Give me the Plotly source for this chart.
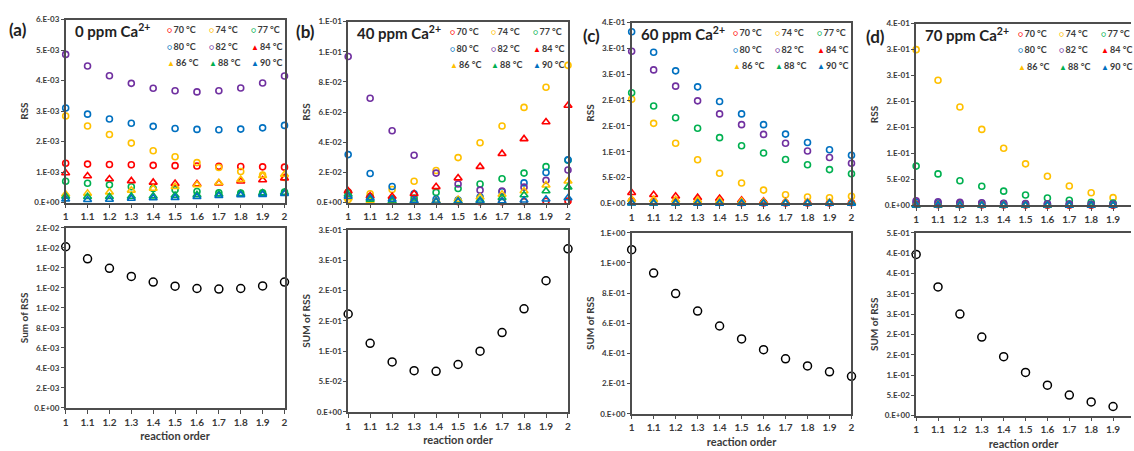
import plotly.graph_objects as go

W, H = 1134, 451

# ---------------- data ----------------
ORDERS = [1.0, 1.1, 1.2, 1.3, 1.4, 1.5, 1.6, 1.7, 1.8, 1.9, 2.0]
ORDER_LABELS = ["1", "1.1", "1.2", "1.3", "1.4", "1.5", "1.6", "1.7", "1.8", "1.9", "2"]
TEMPS = ["70 °C", "74 °C", "77 °C", "80 °C", "82 °C", "84 °C", "86 °C", "88 °C", "90 °C"]

PANEL_LETTERS = ["(a)", "(b)", "(c)", "(d)"]
PANEL_TITLES = ["0 ppm Ca<sup>2+</sup>", "40 ppm Ca<sup>2+</sup>",
                "60 ppm Ca<sup>2+</sup>", "70 ppm Ca<sup>2+</sup>"]
SUM_TITLES = ["Sum of RSS", "SUM of RSS", "SUM of RSS", "SUM of RSS"]

# RSS per temperature (rows follow TEMPS), 0 ppm Ca2+
RSS_0PPM = [
    [0.00129, 0.00126, 0.00125, 0.00124, 0.00122, 0.00121, 0.00120, 0.00119, 0.00118, 0.00117, 0.00116],
    [0.00284, 0.00251, 0.00223, 0.00195, 0.00170, 0.00150, 0.00131, 0.00115, 0.00102, 0.00090, 0.00082],
    [0.00070, 0.00063, 0.00058, 0.00052, 0.00046, 0.00042, 0.00036, 0.00032, 0.00031, 0.00032, 0.00034],
    [0.00310, 0.00290, 0.00274, 0.00260, 0.00250, 0.00243, 0.00240, 0.00239, 0.00241, 0.00245, 0.00253],
    [0.00486, 0.00448, 0.00416, 0.00391, 0.00375, 0.00367, 0.00363, 0.00367, 0.00376, 0.00392, 0.00415],
    [0.00097, 0.00087, 0.00077, 0.00071, 0.00066, 0.00062, 0.00061, 0.00063, 0.00070, 0.00074, 0.00080],
    [0.00027, 0.00030, 0.00034, 0.00040, 0.00046, 0.00052, 0.00058, 0.00065, 0.00075, 0.00088, 0.00092],
    [0.00020, 0.00019, 0.00019, 0.00020, 0.00021, 0.00023, 0.00025, 0.00027, 0.00029, 0.00031, 0.00033],
    [0.00011, 0.00009, 0.00010, 0.00013, 0.00015, 0.00016, 0.00019, 0.00022, 0.00025, 0.00026, 0.00029],
]
# 40 ppm Ca2+
RSS_40PPM = [
    [0.0070, 0.0040, 0.0020, 0.0012, 0.0008, 0.0006, 0.0005, 0.0005, 0.0006, 0.0008, 0.0010],
    [0.0020, 0.0058, 0.0086, 0.0141, 0.0212, 0.0298, 0.0396, 0.0508, 0.0631, 0.0765, 0.0910],
    [0.0065, 0.0035, 0.0025, 0.0030, 0.0067, 0.0093, 0.0123, 0.0158, 0.0195, 0.0238, 0.0280],
    [0.0318, 0.0192, 0.0106, 0.0058, 0.0022, 0.0017, 0.0037, 0.0071, 0.0130, 0.0199, 0.0283],
    [0.0969, 0.0692, 0.0476, 0.0314, 0.0195, 0.0123, 0.0082, 0.0076, 0.0102, 0.0147, 0.0216],
    [0.0076, 0.0043, 0.0040, 0.0058, 0.0104, 0.0162, 0.0238, 0.0324, 0.0422, 0.0534, 0.0644],
    [0.0030, 0.0012, 0.0005, 0.0005, 0.0012, 0.0020, 0.0035, 0.0054, 0.0076, 0.0115, 0.0141],
    [0.0054, 0.0020, 0.0008, 0.0005, 0.0005, 0.0008, 0.0015, 0.0032, 0.0050, 0.0076, 0.0102],
    [0.0040, 0.0030, 0.0020, 0.0012, 0.0008, 0.0006, 0.0008, 0.0010, 0.0015, 0.0022, 0.0030],
]
# 60 ppm Ca2+
RSS_60PPM = [
    [0.0050, 0.0040, 0.0030, 0.0025, 0.0020, 0.0015, 0.0012, 0.0010, 0.0010, 0.0010, 0.0015],
    [0.2018, 0.1551, 0.1167, 0.0845, 0.0586, 0.0397, 0.0259, 0.0170, 0.0125, 0.0110, 0.0140],
    [0.2144, 0.1885, 0.1658, 0.1456, 0.1274, 0.1116, 0.0977, 0.0851, 0.0750, 0.0656, 0.0575],
    [0.3323, 0.2926, 0.2566, 0.2257, 0.1974, 0.1734, 0.1526, 0.1343, 0.1179, 0.1040, 0.0934],
    [0.2945, 0.2585, 0.2270, 0.1986, 0.1734, 0.1526, 0.1337, 0.1167, 0.1015, 0.0889, 0.0780],
    [0.0208, 0.0170, 0.0139, 0.0113, 0.0095, 0.0063, 0.0044, 0.0030, 0.0025, 0.0020, 0.0020],
    [0.0080, 0.0075, 0.0070, 0.0060, 0.0050, 0.0040, 0.0030, 0.0025, 0.0020, 0.0020, 0.0020],
    [0.0010, 0.0008, 0.0007, 0.0006, 0.0005, 0.0005, 0.0004, 0.0004, 0.0004, 0.0004, 0.0005],
    [0.0005, 0.0004, 0.0004, 0.0003, 0.0003, 0.0003, 0.0003, 0.0003, 0.0003, 0.0003, 0.0003],
]
# 70 ppm Ca2+ (orders 1 .. 1.9 visible)
RSS_70PPM = [
    [0.0020, 0.0015, 0.0012, 0.0010, 0.0008, 0.0007, 0.0006, 0.0005, 0.0005, 0.0005],
    [0.2998, 0.2410, 0.1896, 0.1464, 0.1101, 0.0801, 0.0563, 0.0375, 0.0244, 0.0150],
    [0.0757, 0.0607, 0.0476, 0.0369, 0.0275, 0.0200, 0.0144, 0.0100, 0.0063, 0.0044],
    [0.0060, 0.0050, 0.0045, 0.0040, 0.0035, 0.0030, 0.0028, 0.0025, 0.0022, 0.0020],
    [0.0088, 0.0070, 0.0060, 0.0050, 0.0042, 0.0036, 0.0030, 0.0026, 0.0023, 0.0020],
    [0.0012, 0.0010, 0.0009, 0.0008, 0.0007, 0.0006, 0.0005, 0.0005, 0.0004, 0.0004],
    [0.0010, 0.0009, 0.0008, 0.0007, 0.0006, 0.0005, 0.0005, 0.0004, 0.0004, 0.0004],
    [0.0006, 0.0005, 0.0005, 0.0004, 0.0004, 0.0004, 0.0003, 0.0003, 0.0003, 0.0003],
    [0.0004, 0.0004, 0.0003, 0.0003, 0.0003, 0.0003, 0.0003, 0.0002, 0.0002, 0.0002],
]

SUM_0PPM = [0.01612, 0.01491, 0.01396, 0.01315, 0.01259, 0.01217, 0.01194, 0.01188, 0.01194, 0.01220, 0.01259]
SUM_40PPM = [0.1613, 0.1129, 0.0823, 0.0677, 0.0667, 0.0780, 0.1000, 0.1306, 0.1699, 0.2161, 0.2688]
SUM_60PPM = [1.088, 0.933, 0.797, 0.681, 0.582, 0.496, 0.425, 0.364, 0.317, 0.278, 0.248]
SUM_70PPM = [0.3968, 0.3169, 0.2500, 0.1935, 0.1452, 0.1065, 0.0750, 0.0508, 0.0339, 0.0226]

RSS_TICKS_0 = [0, 0.001, 0.002, 0.003, 0.004, 0.005, 0.006]
RSS_LABELS_0 = ["0.E+00", "1.E-03", "2.E-03", "3.E-03", "4.E-03", "5.E-03", "6.E-03"]
RSS_TICKS_40 = [0, 0.02, 0.04, 0.06, 0.08, 0.10, 0.12]
RSS_LABELS_40 = ["0.E+00", "2.E-02", "4.E-02", "6.E-02", "8.E-02", "1.E-01", "1.E-01"]
RSS_TICKS_60 = [0, 0.05, 0.10, 0.15, 0.20, 0.25, 0.30, 0.35]
RSS_LABELS_60 = ["0.E+00", "5.E-02", "1.E-01", "2.E-01", "2.E-01", "3.E-01", "3.E-01", "4.E-01"]
RSS_TICKS_70 = [0, 0.05, 0.10, 0.15, 0.20, 0.25, 0.30, 0.35]
RSS_LABELS_70 = ["0.E+00", "5.E-02", "1.E-01", "2.E-01", "2.E-01", "3.E-01", "3.E-01", "4.E-01"]

SUM_TICKS_0 = [0, 0.002, 0.004, 0.006, 0.008, 0.010, 0.012, 0.014, 0.016, 0.018]
SUM_LABELS_0 = ["0.E+00", "2.E-03", "4.E-03", "6.E-03", "8.E-03", "1.E-02", "1.E-02", "1.E-02", "1.E-02", "2.E-02"]
SUM_TICKS_40 = [0, 0.05, 0.10, 0.15, 0.20, 0.25, 0.30]
SUM_LABELS_40 = ["0.E+00", "5.E-02", "1.E-01", "2.E-01", "2.E-01", "3.E-01", "3.E-01"]
SUM_TICKS_60 = [0, 0.2, 0.4, 0.6, 0.8, 1.0, 1.2]
SUM_LABELS_60 = ["0.E+00", "2.E-01", "4.E-01", "6.E-01", "8.E-01", "1.E+00", "1.E+00"]
SUM_TICKS_70 = [0, 0.05, 0.10, 0.15, 0.20, 0.25, 0.30, 0.35, 0.40, 0.45]
SUM_LABELS_70 = ["0.E+00", "5.E-02", "1.E-01", "2.E-01", "2.E-01", "3.E-01", "3.E-01", "4.E-01", "4.E-01", "5.E-01"]

# ---------------- style / layout ----------------
FONT = "Lato"
TXT = "#3a3a3a"
AX = "#4d4d4d"
COLORS = ["#FF0000", "#FFC000", "#00B050", "#0070C0", "#7030A0",
          "#FF0000", "#FFC000", "#00B050", "#0070C0"]
SYMBOLS = ["circle-open"] * 5 + ["triangle-up-open"] * 4
LEG_GLYPH = ["○"] * 5 + ["▲"] * 4

# pixel geometry per panel: x-left, x-right, top plot (y top, y bottom), bottom plot (y top, y bottom)
GEOM = [
    (63, 283, 15, 202, 228, 412),
    (347, 568, 17, 202, 230, 416),
    (632, 853, 18, 203, 233, 418),
    (918, 1134, 19, 205, 233, 420),
]
XMAX = [2.0, 2.0, 2.0, 1.982]
LETTER_POS = [(4, 25), (293, 27), (581, 31), (866, 32)]

panels = [
    (RSS_0PPM, SUM_0PPM, RSS_TICKS_0, RSS_LABELS_0, SUM_TICKS_0, SUM_LABELS_0),
    (RSS_40PPM, SUM_40PPM, RSS_TICKS_40, RSS_LABELS_40, SUM_TICKS_40, SUM_LABELS_40),
    (RSS_60PPM, SUM_60PPM, RSS_TICKS_60, RSS_LABELS_60, SUM_TICKS_60, SUM_LABELS_60),
    (RSS_70PPM, SUM_70PPM, RSS_TICKS_70, RSS_LABELS_70, SUM_TICKS_70, SUM_LABELS_70),
]


def px(x):
    return x / W


def py(y):
    return 1 - y / H


fig = go.Figure()
layout = dict(
    width=W, height=H, autosize=False,
    margin=dict(l=0, r=0, t=0, b=0),
    paper_bgcolor="white", plot_bgcolor="white",
    showlegend=False,
    font=dict(family=FONT, color=TXT),
)
annotations = []

tick_font_x = dict(family=FONT, size=10, color=TXT, weight="bold")
tick_font_y = dict(family=FONT, size=8, color=TXT, weight="bold")
title_font = dict(family=FONT, size=10, color=TXT, weight="bold")

for p, (rss, sums, rt, rl, st, sl) in enumerate(panels):
    x0, x1, tt, tb, bt, bb = GEOM[p]
    it, ib = 2 * p + 1, 2 * p + 2
    xt = "x" if it == 1 else f"x{it}"
    yt = "y" if it == 1 else f"y{it}"
    xb, yb = f"x{ib}", f"y{ib}"

    for k, vals in enumerate(rss):
        fig.add_trace(go.Scatter(
            x=ORDERS[:len(vals)], y=vals, mode="markers", name=TEMPS[k],
            marker=dict(symbol=SYMBOLS[k], size=6 if k < 5 else 7, color=COLORS[k],
                        line=dict(width=1.6, color=COLORS[k])),
            xaxis=xt, yaxis=yt, cliponaxis=False, showlegend=False,
        ))
    fig.add_trace(go.Scatter(
        x=ORDERS[:len(sums)], y=sums, mode="markers", name="Sum of RSS",
        marker=dict(symbol="circle-open", size=8, color="black", line=dict(width=1.5, color="black")),
        xaxis=xb, yaxis=yb, cliponaxis=False, showlegend=False,
    ))

    mirror_y = p < 3
    base_x = dict(
        range=[1, XMAX[p]], tickvals=ORDERS, ticktext=ORDER_LABELS,
        showline=True, linecolor=AX, linewidth=1.5, mirror=True,
        ticks="outside", ticklen=4, tickcolor=AX, tickwidth=1,
        showgrid=False, zeroline=False, tickfont=tick_font_x,
        domain=[px(x0), px(x1)],
    )
    xa_top = dict(base_x, anchor=yt)
    xa_bot = dict(base_x, anchor=yb,
                  title=dict(text="reaction order", font=dict(title_font, size=11), standoff=6))
    ya_top = dict(
        range=[0, rt[-1]], tickvals=rt, ticktext=rl,
        showline=True, linecolor=AX, linewidth=1.5, mirror=mirror_y,
        ticks="outside", ticklen=3, tickcolor=AX, tickwidth=1,
        showgrid=False, zeroline=False, tickfont=tick_font_y,
        domain=[py(tb), py(tt)], anchor=xt,
        title=dict(text="RSS", font=title_font, standoff=4),
    )
    ya_bot = dict(ya_top, range=[0, st[-1]], tickvals=st, ticktext=sl,
                  domain=[py(bb), py(bt)], anchor=xb,
                  title=dict(text=SUM_TITLES[p], font=title_font, standoff=4))
    layout["xaxis" if it == 1 else f"xaxis{it}"] = xa_top
    layout[f"xaxis{ib}"] = xa_bot
    layout["yaxis" if it == 1 else f"yaxis{it}"] = ya_top
    layout[f"yaxis{ib}"] = ya_bot

    # panel letter
    lx, ly = LETTER_POS[p]
    annotations.append(dict(text=f"<b>{PANEL_LETTERS[p]}</b>", xref="paper", yref="paper",
                            x=px(lx), y=py(ly), xanchor="left", yanchor="middle",
                            showarrow=False, font=dict(family=FONT, size=17, color="#222222")))
    # panel title
    annotations.append(dict(text=f"<b>{PANEL_TITLES[p]}</b>", xref="paper", yref="paper",
                            x=px(x0 + 7), y=py(tt + 11), xanchor="left", yanchor="middle",
                            showarrow=False, font=dict(family=FONT, size=15, color="#222222")))
    # legend grid 3 x 3
    col_off = [104, 146, 188]
    row_off = [10, 27, 44]
    for k in range(9):
        r, c = divmod(k, 3)
        annotations.append(dict(
            text=f"<span style='color:{COLORS[k]};font-size:8px'>{LEG_GLYPH[k]}</span>\u2009<b>{TEMPS[k]}</b>",
            xref="paper", yref="paper", x=px(x0 + col_off[c] - 4), y=py(tt + row_off[r]),
            xanchor="left", yanchor="middle", showarrow=False,
            font=dict(family=FONT, size=9, color=TXT)))

layout["annotations"] = annotations
fig.update_layout(**layout)
fig.write_html("out.html", config={"displayModeBar": False},
               post_script="document.body.style.margin='0';document.body.style.overflow='hidden';")
